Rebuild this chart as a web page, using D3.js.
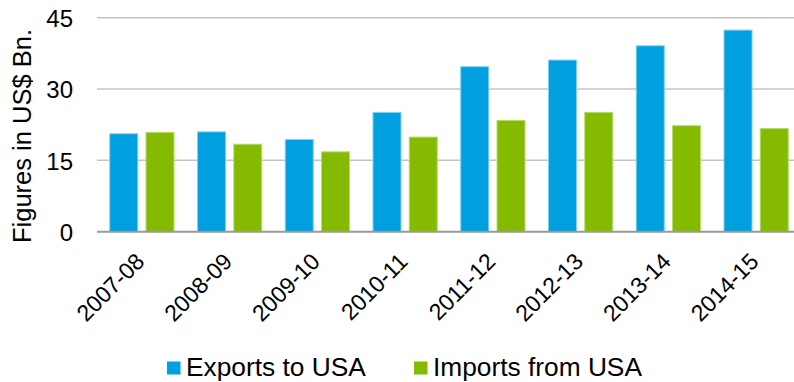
<!DOCTYPE html>
<html>
<head>
<meta charset="utf-8">
<script src="https://cdn.jsdelivr.net/npm/d3@7/dist/d3.min.js"></script>
<style>
  html, body { margin: 0; padding: 0; background: #fff; }
  svg { display: block; font-family: "Liberation Sans", Arial, sans-serif; }
</style>
</head>
<body>
<svg id="chart" width="794" height="382"></svg>
<script>
// India–USA trade, US$ billion
const years = ["2007-08", "2008-09", "2009-10", "2010-11", "2011-12", "2012-13", "2013-14", "2014-15"];
const exportsToUSA = [20.7, 21.1, 19.5, 25.2, 34.8, 36.2, 39.2, 42.5];
const importsFromUSA = [21.0, 18.5, 16.9, 20.0, 23.5, 25.2, 22.4, 21.8];
const yTicks = [0, 15, 30, 45];
const seriesNames = ["Exports to USA", "Imports from USA"];
const seriesColors = ["#009FDF", "#84BB00"];
const seriesEdges = ["#7FD2F2", "#B9DC6A"];

const svg = d3.select("#chart");

const x = d3.scaleBand().domain(years).range([98, 800]);
const xs = d3.scaleBand().domain([0, 1]).range([0, x.bandwidth()])
  .paddingInner(0.2).paddingOuter(0.31);
const y = d3.scaleLinear().domain([0, 45]).range([231.7, 17.7]);

// horizontal gridlines
svg.append("g")
  .selectAll("line")
  .data(yTicks.filter(d => d > 0))
  .join("line")
  .attr("x1", 97).attr("x2", 794)
  .attr("y1", d => y(d)).attr("y2", d => y(d))
  .attr("stroke", "#c4c4c4").attr("stroke-width", 1.5);

// y-axis tick labels
const yAxis = d3.axisLeft(y).tickValues(yTicks).tickSize(0).tickPadding(0);
svg.append("g")
  .attr("transform", "translate(73,0)")
  .call(yAxis)
  .call(g => g.select(".domain").remove())
  .call(g => g.selectAll("text")
    .attr("font-size", 24)
    .attr("font-family", "Liberation Sans, Arial, sans-serif")
    .attr("fill", "#000")
    .attr("dy", "0.36em"));

// bars
const rows = years.map((yr, i) => ({ yr, vals: [exportsToUSA[i], importsFromUSA[i]] }));
const groups = svg.append("g")
  .selectAll("g")
  .data(rows)
  .join("g")
  .attr("transform", d => `translate(${x(d.yr)},0)`);

groups.selectAll("rect")
  .data(d => d.vals.map((v, k) => ({ v, k })))
  .join("rect")
  .attr("x", d => xs(d.k) + 0.5)
  .attr("width", xs.bandwidth() - 1)
  .attr("y", d => y(d.v) + 0.5)
  .attr("height", d => y(0) - y(d.v) - 0.5)
  .attr("fill", d => seriesColors[d.k])
  .attr("stroke", d => seriesEdges[d.k])
  .attr("stroke-width", 1);

// category axis line
svg.append("line")
  .attr("x1", 97).attr("x2", 794)
  .attr("y1", y(0)).attr("y2", y(0))
  .attr("stroke", "#9a9a9a").attr("stroke-width", 2);

// rotated category labels
svg.append("g")
  .selectAll("text")
  .data(years)
  .join("text")
  .attr("transform", d => `translate(${x(d) + x.bandwidth() / 2 + 4},263) rotate(-45)`)
  .attr("text-anchor", "end")
  .attr("font-size", 23)
  .attr("fill", "#000")
  .text(d => d);

// y-axis title
svg.append("text")
  .attr("transform", "translate(31,136) rotate(-90)")
  .attr("text-anchor", "middle")
  .attr("font-size", 25.5)
  .attr("fill", "#000")
  .text("Figures in US$ Bn.");

// legend
const legendX = [167, 414];
const legend = svg.append("g")
  .selectAll("g")
  .data(seriesNames)
  .join("g")
  .attr("transform", (d, i) => `translate(${legendX[i]},0)`);
legend.append("rect")
  .attr("x", 0).attr("y", 361.5)
  .attr("width", 13.5).attr("height", 13)
  .attr("fill", (d, i) => seriesColors[i]);
legend.append("text")
  .attr("x", 19).attr("y", 376)
  .attr("font-size", 26.3)
  .attr("fill", "#000")
  .text(d => d);
</script>
</body>
</html>
